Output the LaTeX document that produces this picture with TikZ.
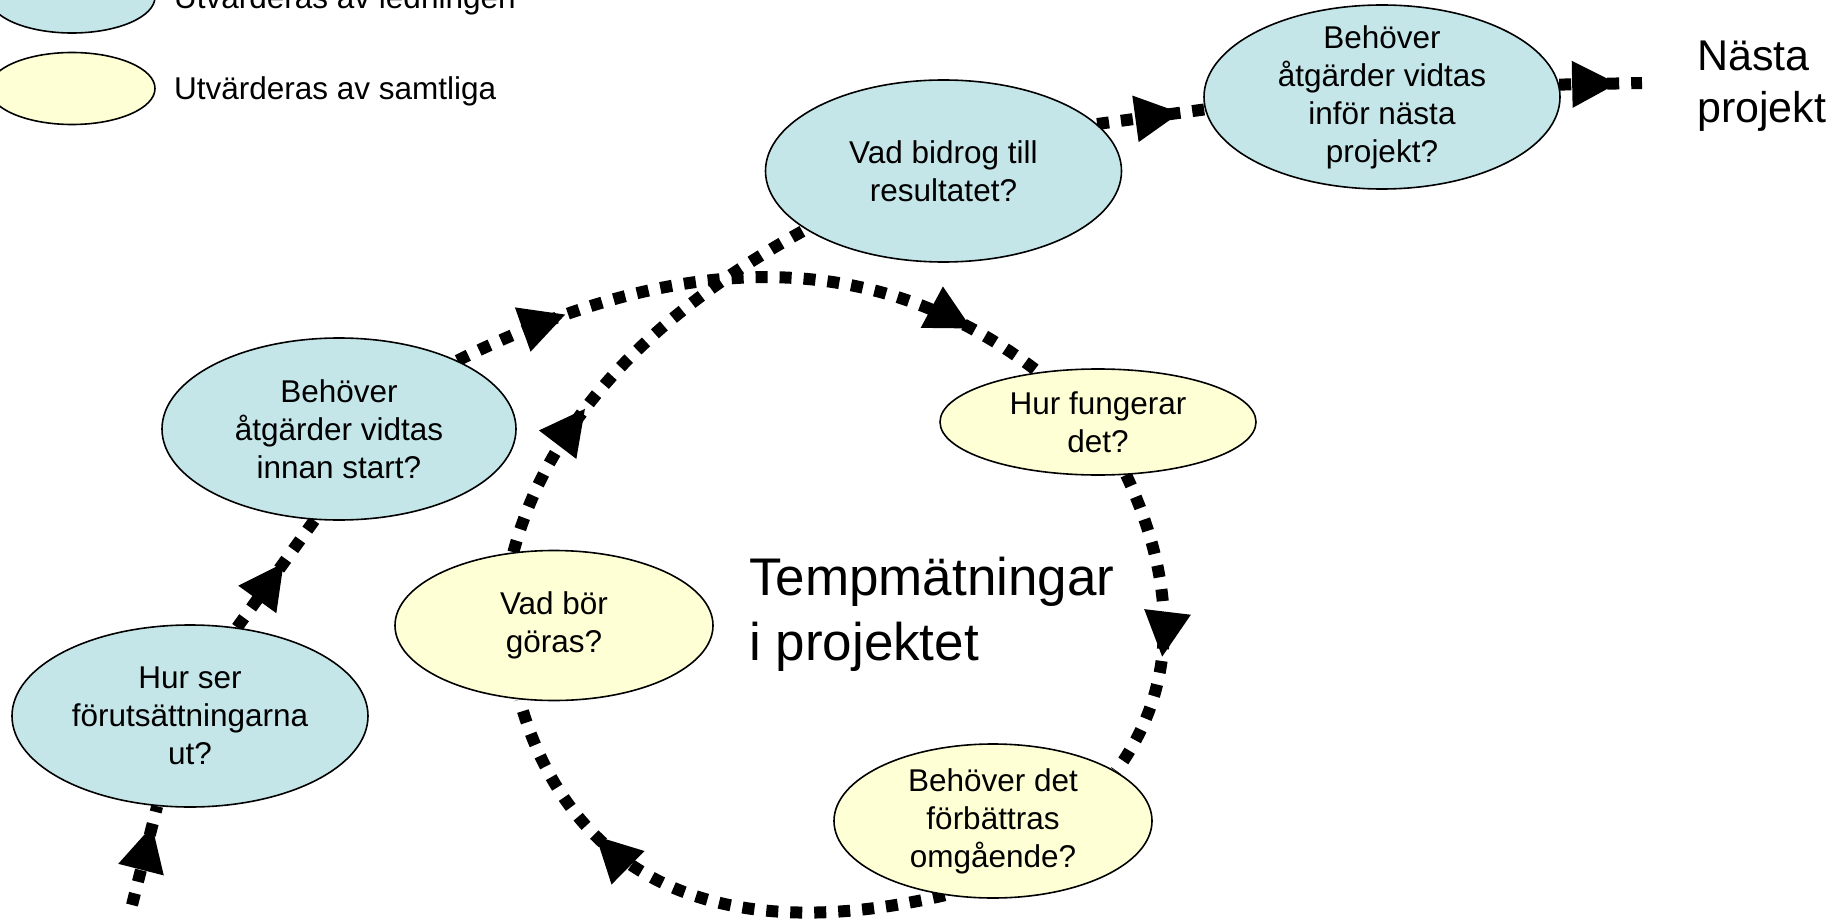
\documentclass[tikz,border=0pt]{standalone}
\usepackage{fontspec}
\setmainfont{Liberation Sans}
\usetikzlibrary{shapes.geometric,arrows.meta,decorations.markings}
\pgfdeclarelayer{background}
\pgfsetlayers{background,main}
\definecolor{leadblue}{RGB}{196,230,233}
\definecolor{allyellow}{RGB}{255,255,214}
\begin{document}
\begin{tikzpicture}[x=1pt,y=-1pt,
  bub/.style={ellipse, draw=black, line width=1.6pt, inner xsep=0pt, inner ysep=-14pt, align=center, font=\fontsize{31.5}{38}\selectfont},
  leadnode/.style={bub, fill=leadblue},
  allnode/.style={bub, fill=allyellow},
  sz/.style 2 args={minimum width=#1pt, minimum height=#2pt},
  flow/.style={draw=black, line width=12pt, dash pattern=on 12pt off 12pt},
  tipat/.style={postaction={decorate, decoration={markings, mark=at position #1 with {\arrow{Triangle[length=45pt,width=47pt,line width=0pt]}}}}},
  lbl/.style={font=\fontsize{31.5}{38}\selectfont, inner sep=0pt, anchor=base west},
  big/.style={font=\fontsize{53}{65}\selectfont, inner sep=0pt, anchor=base west},
  mid/.style={font=\fontsize{43}{50}\selectfont, inner sep=0pt, anchor=base west}
]
\useasboundingbox (0,0) rectangle (1847,920);

% legend
\node[leadnode, sz={166}{72}] (lg1) at (72,-3) {};
\node[allnode, sz={166}{72}] (lg2) at (72,88.5) {};
\node[lbl] (lt1) at (174,8.5) {Utvärderas av ledningen};
\node[lbl] (lt2) at (174,100) {Utvärderas av samtliga};

% main nodes
\node[leadnode, sz={356}{182}] (n1) at (943.5,171) {Vad bidrog till\\resultatet?};
\node[leadnode, sz={356}{184}] (n2) at (1382,97) {Behöver\\åtgärder vidtas\\inför nästa\\projekt?};
\node[leadnode, sz={354}{182}] (n3) at (339,429) {Behöver\\åtgärder vidtas\\innan start?};
\node[leadnode, sz={356}{182}] (n4) at (190,716) {Hur ser\\förutsättningarna\\ut?};
\node[allnode, sz={316}{106}] (n5) at (1098,422) {Hur fungerar\\det?};
\node[allnode, sz={318}{150}] (n6) at (554,625.5) {Vad bör\\göras?};
\node[allnode, sz={318}{154}] (n7) at (993,821) {Behöver det\\förbättras\\omgående?};

% texts
\node[big] (tm1) at (749,595) {Tempmätningar};
\node[big] (tm2) at (749,660) {i projektet};
\node[mid] (np1) at (1697,71) {Nästa};
\node[mid] (np2) at (1697,123) {projekt};

% connectors
\begin{pgfonlayer}{background}
\fill[white] (0,0) rectangle (1847,920);
\coordinate (a0) at (132,905);
\draw[flow, tipat=0.8] (a0) -- (n4.250);
\draw[flow, tipat=0.6] (n4.62) -- (n3.255);
\draw[flow, tipat=0.19, tipat=0.87] (n3.30) .. controls (690,245) and (880,250) .. (n5.140);
\draw[flow, tipat=0.6] (n5.298) .. controls (1180,590) and (1176,690) .. (n7.22);
\draw[flow, tipat=0.7] (n7.237) .. controls (720,948) and (570,880) .. (n6.245);
\draw[flow, tipat=0.36] (n6.119) .. controls (546,430) and (640,320) .. (n1.203);
\draw[flow, tipat=0.77] (n1.17) -- (n2.184);
\end{pgfonlayer}
\coordinate (h1) at (1642,83);
\draw[flow, tipat=0.7] (n2.4) -- (h1);
\end{tikzpicture}
\end{document}
